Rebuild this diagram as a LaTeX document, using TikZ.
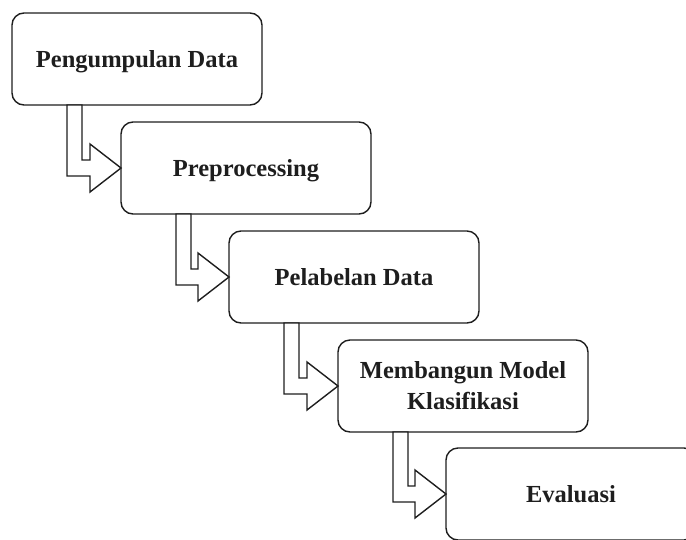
\documentclass[tikz,border=0pt]{standalone}
\usepackage{fontspec}
\setmainfont{Liberation Serif}
\usetikzlibrary{calc}
\definecolor{ink}{HTML}{1E1E1E}
\tikzset{
  stage/.style={draw=ink, line width=1.4pt, rounded corners=12pt, fill=white,
    minimum width=250pt, minimum height=92pt, inner sep=0pt, outer sep=0pt,
    align=center, text=ink, font=\fontsize{24.5}{31}\selectfont\bfseries},
  oneline/.style={text height=22pt, text depth=5pt},
  blockarrow/.style={draw=ink, line width=1.4pt, fill=white, line join=miter}
}
% hollow L-shaped block arrow from the bottom of one stage to the left side of the next
\newcommand\steparrow[2]{%
  \draw[blockarrow] let \p1=(#1.south west), \p2=(#2.west) in
    (\x1+55pt,\y1) -- (\x1+70pt,\y1) -- (\x1+70pt,\y2+8pt) -- (\x2-31pt,\y2+8pt)
    -- (\x2-31pt,\y2+24pt) -- (\p2) -- (\x2-31pt,\y2-24pt) -- (\x2-31pt,\y2-8pt)
    -- (\x1+55pt,\y2-8pt) -- cycle;}
\begin{document}
\begin{tikzpicture}[x=1pt, y=-1pt]
  \useasboundingbox (0,0) rectangle (686,539);
  \clip (0,0) rectangle (686,539);
  \node[stage, oneline] (s1) at (137,59)   {Pengumpulan Data};
  \node[stage, oneline] (s2) at (246,168)  {Preprocessing};
  \node[stage, oneline] (s3) at (354,277)  {Pelabelan Data};
  \node[stage]          (s4) at (463,386)  {Membangun Model\\Klasifikasi};
  \node[stage, oneline] (s5) at (571,494)  {Evaluasi};
  \steparrow{s1}{s2}
  \steparrow{s2}{s3}
  \steparrow{s3}{s4}
  \steparrow{s4}{s5}
\end{tikzpicture}
\end{document}
